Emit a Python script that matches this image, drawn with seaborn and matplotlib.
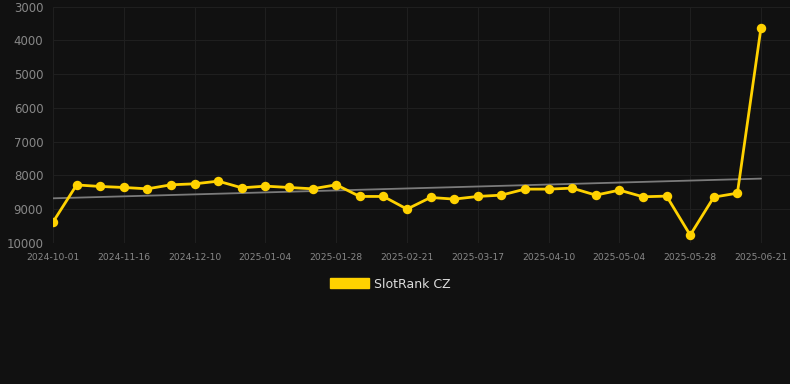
import matplotlib
matplotlib.use('Agg')
import matplotlib.pyplot as plt
import matplotlib.patches as mpatches
import numpy as np
import pandas as pd
import seaborn as sns

# rank per sample (lower is better, axis inverted)
ranks = [9380, 8280, 8325, 8355, 8395, 8276, 8247, 8168, 8365, 8316,
         8355, 8395, 8276, 8621, 8621, 8996, 8651, 8700, 8621, 8582,
         8404, 8404, 8375, 8582, 8434, 8631, 8611, 9765, 8641, 8523,
         3621]
tick_labels = ['2024-10-01', '2024-11-16', '2024-12-10', '2025-01-04',
               '2025-01-28', '2025-02-21', '2025-03-17', '2025-04-10',
               '2025-05-04', '2025-05-28', '2025-06-21']
series_name = 'SlotRank CZ'

df = pd.DataFrame({'idx': np.arange(len(ranks)), 'rank': ranks})

bg = '#111111'
gold = '#FFD200'
sns.set_theme(style='dark')
plt.rcParams['font.family'] = ['DejaVu Sans']

fig = plt.figure(figsize=(7.9, 3.84), dpi=100, facecolor=bg)
ax = fig.add_axes([53 / 790, 1 - 243 / 384, 1 - 53 / 790, (243 - 6.7) / 384])
ax.set_facecolor(bg)

# trend line
coef = np.polyfit(df['idx'], df['rank'], 1)
ends = [df['idx'].iloc[0], df['idx'].iloc[-1]]
ax.plot(ends, np.polyval(coef, ends), color='#7a7a7a', lw=1.3, zorder=2)

sns.lineplot(data=df, x='idx', y='rank', ax=ax, color=gold, lw=2,
             marker='o', markersize=6.8, markeredgewidth=0, zorder=3)

ax.set_ylim(10000, 3000)
ax.set_xlim(0, (790 - 53) / ((761 - 53) / 30))
ax.set_yticks(range(3000, 10001, 1000))
ax.set_xticks(range(0, len(ranks), 3))
ax.set_xticklabels(tick_labels)
ax.grid(True, color='#1f1f1f', lw=0.8)
for s in ax.spines.values():
    s.set_visible(False)
ax.tick_params(axis='y', length=0, pad=7, labelsize=8.5, labelcolor='#888888')
ax.tick_params(axis='x', length=5, color='#222222', pad=2, labelsize=6.6,
               labelcolor='#888888')
ax.set_xlabel('')
ax.set_ylabel('')

handle = mpatches.Patch(color=gold, label=series_name)
fig.legend(handles=[handle], loc='center', bbox_to_anchor=(390 / 790, 1 - 284 / 384),
           frameon=False, fontsize=9, labelcolor='#dddddd', handlelength=3.1,
           handleheight=0.9, handletextpad=0.4)

fig.savefig('out.png', dpi=100, facecolor=bg)
